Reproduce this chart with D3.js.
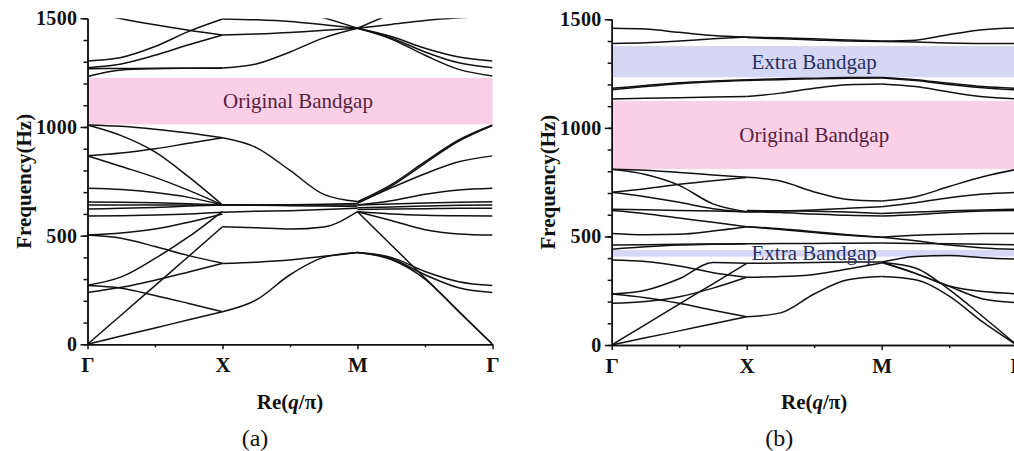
<!DOCTYPE html>
<html lang="en">
<head>
  <meta charset="UTF-8">
  <title>Band structure</title>
  <script src="https://cdnjs.cloudflare.com/ajax/libs/d3/7.8.5/d3.min.js"></script>
  <style>
    body { margin: 0; background: #fff; }
    svg { display: block; }
    svg text { font-family: "Liberation Serif", "Times New Roman", "DejaVu Serif", serif; }
    .band { fill: none; stroke: #111; stroke-width: 1.5px; }
    .axis path, .axis line { stroke: #111; stroke-width: 1.5px; }
    .axis text { font-weight: bold; font-size: 20px; fill: #111; }
    .axis.kx text { font-size: 21px; }
    .title { font-weight: bold; font-size: 21px; fill: #111; }
    .gap-label { font-size: 21px; }
  </style>
</head>
<body>
  <div id="chart"></div>
  <script>
    // symmetry points along the path
    const kLabels = ["Γ", "X", "M", "Γ"];
    const yTicks = [0, 500, 1000, 1500];

    // each row: frequency (Hz) at t = 0, .25, .5, .75, 1 along the segment
    // panel (a)
    const aGX = [
      [0, 38, 75, 113, 150],
      [0, 135, 270, 405, 541],
      [270, 258, 225, 188, 150],
      [272, 310, 395, 495, 612],
      [238, 262, 295, 333, 372],
      [503, 488, 450, 408, 373],
      [503, 512, 530, 562, 600],
      [590, 592, 595, 600, 608],
      [622, 626, 630, 636, 641],
      [641, 641, 641, 641, 641],
      [655, 654, 651, 647, 641],
      [718, 712, 698, 676, 641],
      [867, 818, 768, 708, 641],
      [867, 880, 900, 925, 950],
      [1009, 1003, 990, 972, 950],
      [1009, 960, 885, 770, 641],
      [1232, 1262, 1268, 1270, 1271],
      [1268, 1269, 1270, 1270, 1270],
      [1273, 1290, 1330, 1378, 1423],
      [1304, 1320, 1370, 1440, 1497],
      [1530, 1498, 1470, 1445, 1423]
    ];
    const aXM = [
      [150, 204, 320, 400, 422],
      [372, 378, 388, 405, 422],
      [541, 536, 530, 540, 610],
      [608, 612, 615, 620, 626],
      [641, 641, 641, 641, 641],
      [641, 641, 642, 644, 648],
      [641, 640, 638, 636, 634],
      [950, 905, 800, 690, 657],
      [1271, 1290, 1345, 1410, 1454],
      [1423, 1428, 1435, 1445, 1454],
      [1497, 1493, 1485, 1470, 1454],
      [1620, 1580, 1540, 1502, 1454]
    ];
    const aMG = [
      [656, 735, 840, 940, 1009],
      [650, 728, 833, 935, 1007],
      [650, 720, 785, 840, 867],
      [641, 660, 690, 710, 718],
      [641, 645, 650, 654, 656],
      [628, 632, 636, 640, 641],
      [620, 622, 624, 626, 626],
      [610, 600, 594, 591, 590],
      [610, 570, 527, 508, 503],
      [610, 457, 305, 152, 0],
      [422, 390, 300, 150, 0],
      [422, 400, 335, 288, 270],
      [422, 395, 320, 260, 238],
      [1454, 1416, 1362, 1322, 1304],
      [1454, 1410, 1345, 1295, 1273],
      [1454, 1405, 1330, 1265, 1235],
      [1454, 1472, 1490, 1502, 1510],
      [1454, 1520, 1580, 1630, 1660]
    ];

    // panel (b)
    const bGX = [
      [0, 33, 65, 98, 130],
      [0, 94, 188, 282, 376],
      [235, 218, 192, 160, 130],
      [235, 252, 305, 380, 376],
      [192, 200, 222, 262, 312],
      [392, 385, 364, 333, 312],
      [441, 452, 460, 464, 466],
      [461, 462, 464, 465, 466],
      [514, 508, 510, 525, 545],
      [619, 605, 585, 565, 545],
      [625, 623, 620, 617, 614],
      [703, 683, 657, 628, 612],
      [703, 720, 740, 757, 772],
      [809, 785, 735, 650, 614],
      [809, 805, 795, 783, 772],
      [1133, 1136, 1139, 1142, 1144],
      [1175, 1190, 1203, 1212, 1218],
      [1182, 1195, 1208, 1216, 1222],
      [1389, 1392, 1400, 1410, 1418],
      [1459, 1455, 1440, 1425, 1418]
    ];
    const bXM = [
      [130, 148, 235, 300, 315],
      [312, 315, 325, 350, 378],
      [376, 378, 380, 382, 382],
      [466, 467, 468, 469, 470],
      [545, 535, 522, 508, 496],
      [545, 532, 518, 505, 496],
      [614, 610, 603, 597, 594],
      [614, 617, 622, 630, 637],
      [619, 618, 616, 612, 606],
      [772, 755, 705, 670, 663],
      [1144, 1160, 1182, 1198, 1202],
      [1218, 1222, 1226, 1228, 1230],
      [1222, 1226, 1229, 1232, 1232],
      [1416, 1410, 1405, 1400, 1398],
      [1418, 1415, 1410, 1405, 1400]
    ];
    const bMG = [
      [663, 683, 730, 775, 809],
      [637, 655, 678, 695, 703],
      [606, 612, 618, 622, 625],
      [594, 600, 610, 617, 619],
      [496, 505, 510, 513, 514],
      [496, 480, 460, 447, 441],
      [470, 468, 466, 464, 462],
      [382, 408, 412, 402, 395],
      [380, 355, 255, 130, 0],
      [315, 300, 225, 105, 0],
      [382, 330, 272, 246, 236],
      [380, 330, 270, 212, 195],
      [1202, 1190, 1165, 1143, 1133],
      [1230, 1218, 1200, 1185, 1175],
      [1232, 1222, 1205, 1190, 1182],
      [1398, 1396, 1391, 1389, 1389],
      [1400, 1404, 1430, 1452, 1460]
    ];

    // band gaps: [low Hz, high Hz, label, kind]
    const aGaps = [[1012, 1226, "Original Bandgap", "orig"]];
    const bGaps = [
      [1233, 1377, "Extra Bandgap", "extra"],
      [811, 1124, "Original Bandgap", "orig"],
      [407, 437, "Extra Bandgap", "extra"]
    ];

    const gapFill = { orig: "#fbcfe5", extra: "#d5d7f5" };
    const gapText = { orig: "#55223f", extra: "#28305e" };

    const width = 1014, height = 451;
    const svg = d3.select("#chart").append("svg")
      .attr("width", width)
      .attr("height", height);

    svg.append("rect").attr("width", width).attr("height", height).attr("fill", "#fff");

    function drawPanel(id, segs, gaps, box, tag) {
      const x = d3.scaleLinear().domain([0, 3]).range([box.x0, box.x1]);
      const y = d3.scaleLinear().domain([0, 1500]).range([box.y0, box.y1]);
      const g = svg.append("g");

      g.append("clipPath").attr("id", id)
        .append("rect")
        .attr("x", box.x0).attr("y", box.y1)
        .attr("width", box.x1 - box.x0).attr("height", box.y0 - box.y1);

      // gaps
      g.selectAll(".gap").data(gaps).join("rect")
        .attr("class", "gap")
        .attr("x", x(0) + 1)
        .attr("width", x(3) - x(0) - 1)
        .attr("y", d => y(d[1]))
        .attr("height", d => y(d[0]) - y(d[1]))
        .attr("fill", d => gapFill[d[3]]);

      // bands, segment by segment
      const line = d3.line()
        .x(d => x(d[0]))
        .y(d => y(d[1]))
        .curve(d3.curveMonotoneX);
      const paths = [];
      segs.forEach((rows, s) => {
        rows.forEach(r => paths.push(r.map((f, i) => [s + i / 4, f])));
      });
      g.append("g").attr("clip-path", `url(#${id})`)
        .selectAll("path").data(paths).join("path")
        .attr("class", "band")
        .attr("d", line);

      // gap labels (drawn over the bands)
      g.selectAll(".gap-label").data(gaps).join("text")
        .attr("class", "gap-label")
        .attr("x", x(1.5) + box.labelDx)
        .attr("y", d => y((d[0] + d[1]) / 2))
        .attr("dy", "0.33em")
        .attr("text-anchor", "middle")
        .attr("fill", d => gapText[d[3]])
        .text(d => d[2]);

      // y axis: minor then major
      g.append("g").attr("class", "axis")
        .attr("transform", `translate(${box.x0},0)`)
        .call(d3.axisLeft(y).tickValues(d3.range(0, 1501, 100)).tickSize(4).tickSizeOuter(0).tickFormat(""));
      g.append("g").attr("class", "axis")
        .attr("transform", `translate(${box.x0},0)`)
        .call(d3.axisLeft(y).tickValues(yTicks).tickSize(7).tickSizeOuter(0).tickPadding(3)
          .tickFormat(d3.format("d")))
        .call(a => a.selectAll("text").attr("letter-spacing", "0.4px"));

      // x axis: minor then major
      g.append("g").attr("class", "axis")
        .attr("transform", `translate(0,${box.y0})`)
        .call(d3.axisBottom(x).tickValues([0.5, 1.5, 2.5]).tickSize(3).tickSizeOuter(0).tickFormat(""));
      g.append("g").attr("class", "axis kx")
        .attr("transform", `translate(0,${box.y0})`)
        .call(d3.axisBottom(x).tickValues([0, 1, 2, 3]).tickSize(5).tickSizeOuter(0).tickPadding(8)
          .tickFormat(i => kLabels[i]));

      // axis titles
      g.append("text").attr("class", "title")
        .attr("transform", `translate(${box.x0 - 64},${(box.y0 + box.y1) / 2}) rotate(-90)`)
        .attr("text-anchor", "middle")
        .attr("dy", "0.35em")
        .text("Frequency(Hz)");

      const xt = g.append("text").attr("class", "title")
        .attr("x", (box.x0 + box.x1) / 2)
        .attr("y", 409)
        .attr("text-anchor", "middle");
      xt.append("tspan").text("Re(");
      xt.append("tspan").attr("font-style", "italic").text("q");
      xt.append("tspan").text("/π)");

      g.append("text")
        .attr("x", (box.x0 + box.x1) / 2 - 35)
        .attr("y", 446)
        .attr("text-anchor", "middle")
        .attr("font-size", "24px")
        .attr("fill", "#111")
        .text(tag);
    }

    drawPanel("clipA", [aGX, aXM, aMG], aGaps,
      { x0: 87.5, x1: 492.5, y0: 344.3, y1: 18.3, labelDx: 8 }, "(a)");
    drawPanel("clipB", [bGX, bXM, bMG], bGaps,
      { x0: 611.7, x1: 1016.7, y0: 345, y1: 19.3, labelDx: 0 }, "(b)");
  </script>
</body>
</html>
